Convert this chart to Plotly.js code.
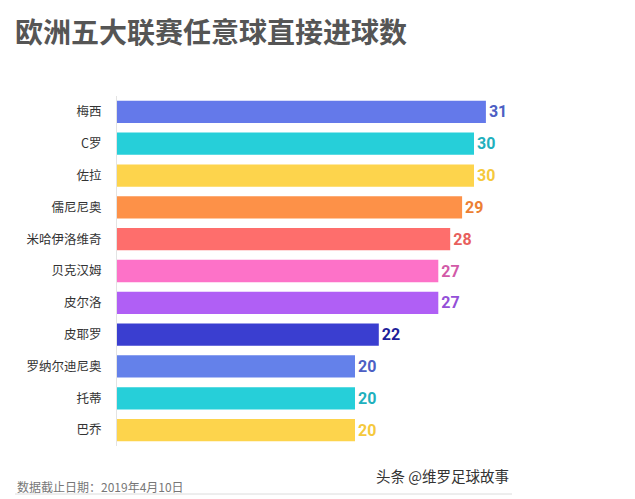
<!DOCTYPE html>
<html>
<head>
<meta charset="utf-8">
<script src="https://cdn.plot.ly/plotly-3.0.1.min.js"></script>
<style>html,body{margin:0;padding:0;background:#fff;}#chart{width:635px;height:499px;}</style>
</head>
<body>
<div id="chart"></div>
<script>
const players = ["梅西","C罗","佐拉","儒尼尼奥","米哈伊洛维奇","贝克汉姆","皮尔洛","皮耶罗","罗纳尔迪尼奥","托蒂","巴乔"];
const goals = [31,30,30,29,28,27,27,22,20,20,20];
const barColors = ["#6479ea","#26cfd9","#fdd44c","#fd9148","#fe6e6c","#fd72c8","#b05ff5","#3a3ed0","#6481ea","#26cfd9","#fdd44c"];
const labelColors = ["#4d5fc4","#1fb0bd","#f5c93c","#ec7f33","#e85f5d","#d25aa8","#9450d8","#1e1e9a","#4d5fc4","#1fb0bd","#f5c93c"];
const titleText = "欧洲五大联赛任意球直接进球数";
const footNote = "数据截止日期：2019年4月10日";
const credit = "头条 @维罗足球故事";

const trace = {
  type: "bar",
  orientation: "h",
  y: players,
  x: goals,
  width: 0.7,
  marker: {color: barColors},
  text: goals.map(String),
  textposition: "outside",
  textfont: {family: "Roboto, 'Noto Sans', sans-serif", size: 16, color: labelColors, weight: "bold"},
  cliponaxis: false,
  hoverinfo: "none"
};

const layout = {
  width: 635, height: 499,
  margin: {l: 117, r: 42, t: 96, b: 53},
  paper_bgcolor: "#fff", plot_bgcolor: "#fff",
  showlegend: false,
  title: {text: "<b>" + titleText + "</b>", xref: "container", yref: "container", x: 15/635, xanchor: "left",
          y: 1 - 33/499, yanchor: "middle",
          font: {family: "'Noto Sans CJK SC', sans-serif", size: 28, color: "#555"}},
  xaxis: {range: [0, 40], visible: false, fixedrange: true},
  yaxis: {type: "category", autorange: false, range: [10.5, -0.5], showgrid: false, zeroline: false,
          showline: true, linecolor: "#e3e3e3", linewidth: 1, ticks: "", ticklabelstandoff: 12,
          tickfont: {family: "'Noto Sans CJK SC', sans-serif", size: 12.5, color: "#333"}},
  bargap: 0.3,
  shapes: [
    {type: "line", xref: "paper", yref: "paper", x0: -102/476, x1: 395/476, y0: -48/350, y1: -48/350,
     line: {color: "#dcdcdc", width: 1}}
  ],
  annotations: [
    {text: footNote, xref: "paper", yref: "paper", x: -102/476, y: -40/350, xanchor: "left", yanchor: "middle",
     showarrow: false, font: {family: "'Noto Sans CJK SC', sans-serif", size: 12, color: "#777"}},
    {text: credit, xref: "paper", yref: "paper", x: 394/476, y: -30/350, xanchor: "right", yanchor: "middle",
     showarrow: false, font: {family: "'Noto Sans CJK SC', sans-serif", size: 14.5, color: "#333"}}
  ]
};

Plotly.newPlot("chart", [trace], layout, {displayModeBar: false, staticPlot: true});
</script>
</body>
</html>
